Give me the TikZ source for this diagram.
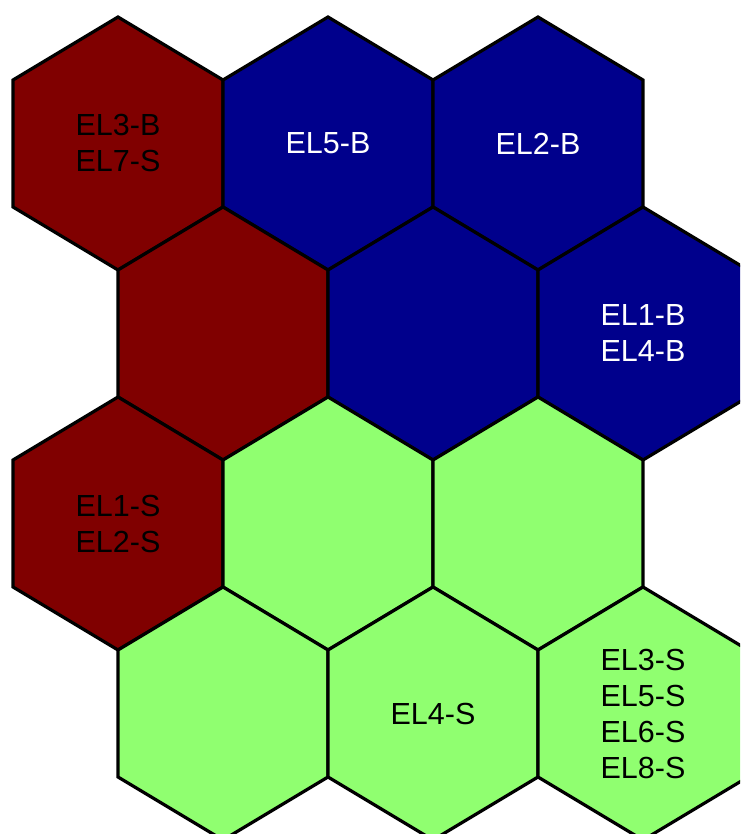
\documentclass[tikz,border=0pt]{standalone}
\usepackage{fontspec}
\setmainfont{Liberation Sans}
\definecolor{hexred}{RGB}{128,0,0}
\definecolor{hexblue}{RGB}{0,0,140}
\definecolor{hexgreen}{RGB}{144,255,112}
\tikzset{
  hexcell/.style={draw=black, line width=3.2pt, line join=miter},
  hexlabel/.style={font=\fontsize{30.5}{36}\selectfont, align=center, inner sep=0pt}
}
\newcommand\myhex[6]{% name, cx, cy, fill, textcolor, text
  \filldraw[hexcell, fill=#4] (#2,#3-126.5) -- (#2+105,#3-63.5) -- (#2+105,#3+63.5) -- (#2,#3+126.5) -- (#2-105,#3+63.5) -- (#2-105,#3-63.5) -- cycle;
  \node[hexlabel, text=#5] (#1) at (#2,#3) {#6};
}
\begin{document}
\begin{tikzpicture}[x=1pt,y=-1pt]
\useasboundingbox (0,0) rectangle (740,834);
\clip (0,0) rectangle (740,834);
% row 0
\myhex{h00}{118}{143.5}{hexred}{black}{EL3-B\\EL7-S}
\myhex{h01}{328}{143.5}{hexblue}{white}{EL5-B}
\myhex{h02}{538}{143.5}{hexblue}{white}{EL2-B}
% row 1
\myhex{h10}{223}{333.5}{hexred}{black}{}
\myhex{h11}{433}{333.5}{hexblue}{white}{}
\myhex{h12}{643}{333.5}{hexblue}{white}{EL1-B\\EL4-B}
% row 2
\myhex{h20}{118}{523.5}{hexred}{black}{EL1-S\\EL2-S}
\myhex{h21}{328}{523.5}{hexgreen}{black}{}
\myhex{h22}{538}{523.5}{hexgreen}{black}{}
% row 3
\myhex{h30}{223}{713.5}{hexgreen}{black}{}
\myhex{h31}{433}{713.5}{hexgreen}{black}{EL4-S}
\myhex{h32}{643}{713.5}{hexgreen}{black}{EL3-S\\EL5-S\\EL6-S\\EL8-S}
\end{tikzpicture}
\end{document}
